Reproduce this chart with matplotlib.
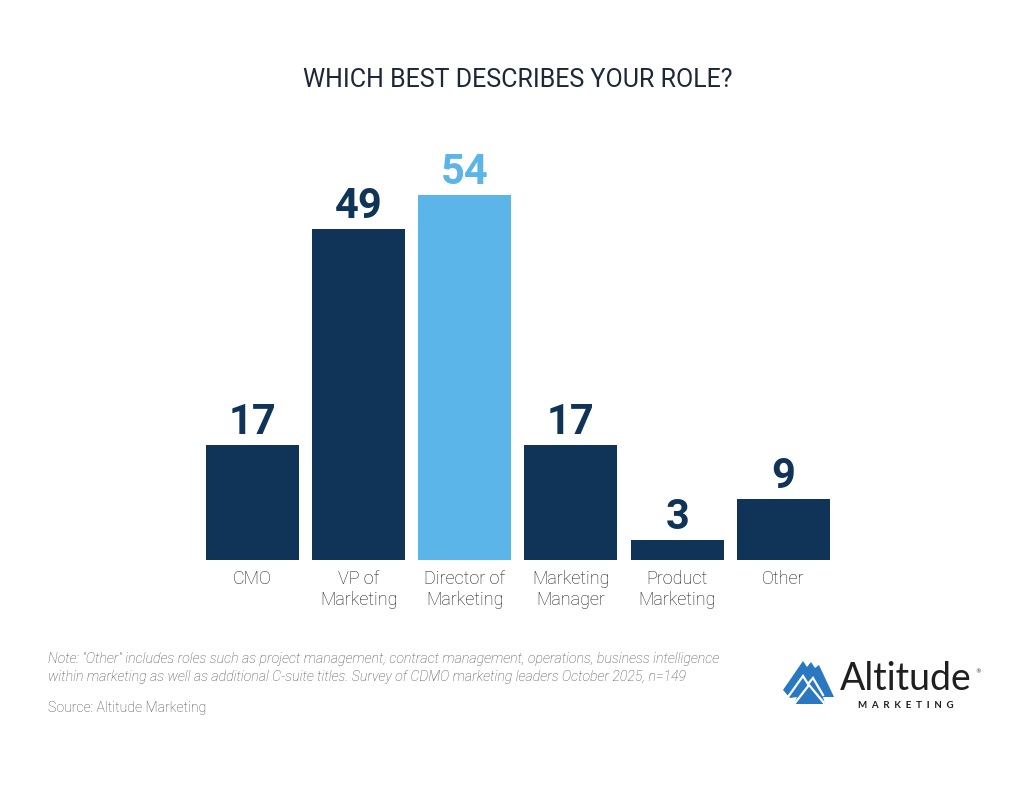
import matplotlib.pyplot as plt
from matplotlib.patches import Polygon

roles = ['CMO', 'VP of\nMarketing', 'Director of\nMarketing', 'Marketing\nManager',
         'Product\nMarketing', 'Other']
counts = [17, 49, 54, 17, 3, 9]
highlight = 'Director of\nMarketing'

navy = '#0f3457'
light = '#5bb5e8'
colors = [light if r == highlight else navy for r in roles]

fig = plt.figure(figsize=(10.24, 7.9), dpi=100)
fig.patch.set_facecolor('white')

# main bar chart, positioned in figure pixels
ax = fig.add_axes([199.4 / 1024, 230 / 790, 637 / 1024, 405.6 / 790])
x = range(len(roles))
ax.bar(x, counts, width=0.876, color=colors)
ax.set_xlim(-0.5, len(roles) - 0.5)
ax.set_ylim(0, 60)
for i, v in enumerate(counts):
    ax.annotate(str(v), (i, v), xytext=(0, 8), textcoords='offset points',
                ha='center', va='baseline', fontsize=30, fontweight='bold',
                family='Roboto', color=colors[i])
ax.set_xticks(list(x))
ax.set_xticklabels(roles, family='Roboto', fontweight='light', fontsize=13,
                   color='#1a1a1a', linespacing=1.2)
ax.tick_params(axis='x', length=0, pad=7)
ax.set_yticks([])
for s in ax.spines.values():
    s.set_visible(False)

fig.text(518 / 1024, 1 - 80 / 790, 'WHICH BEST DESCRIBES YOUR ROLE?',
         ha='center', va='center', family='Roboto', fontsize=18,
         color='#1c2838')

note = ('Note: "Other" includes roles such as project management, contract management, '
        'operations, business intelligence\nwithin marketing as well as additional '
        'C-suite titles. Survey of CDMO marketing leaders October 2025, n=149')
fig.text(48 / 1024, 1 - 668 / 790, note, ha='left', va='center', family='Roboto',
         style='italic', fontweight='light', fontsize=10.2, color='#4d4d4d',
         linespacing=1.35)
fig.text(48 / 1024, 1 - 708 / 790, 'Source: Altitude Marketing', ha='left',
         va='center', family='Roboto', fontweight='light', fontsize=10.2,
         color='#4d4d4d')

# logo overlay in pixel coordinates
lg = fig.add_axes([0, 0, 1, 1], facecolor='none')
lg.set_xlim(0, 1024)
lg.set_ylim(790, 0)
lg.axis('off')
blue = '#2a78c2'
lg.add_patch(Polygon([(783, 690), (803, 661), (807, 667), (811, 662), (815, 668),
                      (819, 665), (834, 697), (823, 697), (825, 704), (794, 704),
                      (797, 697), (790, 698)],
                     closed=True, color=blue, lw=0))
lg.plot([788, 803, 808, 813, 823], [697, 676, 684, 678, 695], color='white', lw=1.6,
        solid_joinstyle='miter')
lg.plot([795, 809, 824], [703, 685, 703], color='white', lw=1.6,
        solid_joinstyle='miter')
lg.text(840, 690, 'Altitude', ha='left', va='baseline', family='Lato',
        fontsize=27, color='#1f1f1f')
lg.text(975, 672, '®', ha='left', va='center', family='DejaVu Sans',
        fontsize=4, color='#1f1f1f')
lg.text(906, 708, 'M  A  R  K  E  T  I  N  G', ha='center', va='baseline',
        family='Lato', fontweight='bold', fontsize=7, color='#1f1f1f')

fig.savefig('out.png', dpi=100, facecolor='white')
